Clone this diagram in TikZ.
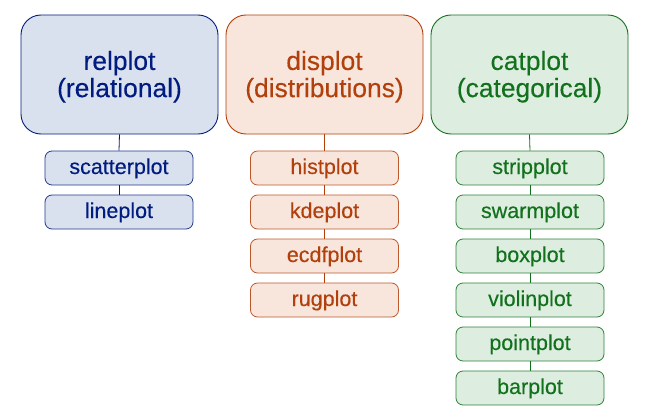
\documentclass[tikz,border=0pt]{standalone}
\usepackage{fontspec}
\setmainfont{Liberation Sans}
\newfontfamily\labfont{Liberation Sans}[FakeBold=0.25]
\definecolor{cb}{HTML}{001C7F}
\definecolor{co}{HTML}{B1400D}
\definecolor{cg}{HTML}{12711C}
\definecolor{fb}{HTML}{DAE1EE}
\definecolor{fo}{HTML}{F8E5DB}
\definecolor{fg}{HTML}{DDEDE0}
\newcommand\bigtxt[2]{\labfont\fontsize{26.4}{26.8}\selectfont\raisebox{-3.5pt}[\height][\depth]{\begin{tabular}{@{}c@{}}#1\\#2\end{tabular}}}
\newcommand\smtxt[1]{\labfont\fontsize{21.5}{24}\selectfont #1}
\tikzset{
  bigbox/.style={draw, rounded corners=20pt, minimum width=197pt, minimum height=119pt, inner sep=0pt, line width=0.9pt},
  smallbox/.style={draw, rounded corners=7pt, minimum width=148pt, minimum height=34pt, inner sep=0pt, text height=15.5pt, text depth=3.5pt, line width=0.8pt},
  blue/.style={draw=cb, fill=fb, text=cb},
  orange/.style={draw=co, fill=fo, text=co},
  green/.style={draw=cg, fill=fg, text=cg},
  sblue/.style={draw=cb!85!fb, fill=fb, text=cb},
  sorange/.style={draw=co!85!fo, fill=fo, text=co},
  sgreen/.style={draw=cg!85!fg, fill=fg, text=cg},
  conn/.style={line width=0.8pt}
}
\begin{document}
\begin{tikzpicture}[x=1pt,y=-1pt]
\useasboundingbox[fill=white] (0,0) rectangle (657,415);
% column 1
\node[bigbox, blue] (rel) at (119.5,74.5) {\bigtxt{relplot}{(relational)}};
\node[smallbox, sblue] (scatter) at (119,168) {\smtxt{scatterplot}};
\node[smallbox, sblue] (line) at (119,212) {\smtxt{lineplot}};
\draw[conn, cb] (rel.south) -- (scatter.north);
\draw[conn, cb] (scatter.south) -- (line.north);
% column 2
\node[bigbox, orange] (dis) at (324.5,74.5) {\bigtxt{displot}{(distributions)}};
\node[smallbox, sorange] (hist) at (324.5,168) {\smtxt{histplot}};
\node[smallbox, sorange] (kde) at (324.5,212) {\smtxt{kdeplot}};
\node[smallbox, sorange] (ecdf) at (324.5,256) {\smtxt{ecdfplot}};
\node[smallbox, sorange] (rug) at (324.5,300) {\smtxt{rugplot}};
\draw[conn, co] (dis.south) -- (hist.north);
\draw[conn, co] (hist.south) -- (kde.north);
\draw[conn, co] (kde.south) -- (ecdf.north);
\draw[conn, co] (ecdf.south) -- (rug.north);
% column 3
\node[bigbox, green] (cat) at (529.5,74.5) {\bigtxt{catplot}{(categorical)}};
\node[smallbox, sgreen] (strip) at (530,168) {\smtxt{stripplot}};
\node[smallbox, sgreen] (swarm) at (530,212) {\smtxt{swarmplot}};
\node[smallbox, sgreen] (box) at (530,256) {\smtxt{boxplot}};
\node[smallbox, sgreen] (violin) at (530,300) {\smtxt{violinplot}};
\node[smallbox, sgreen] (point) at (530,344) {\smtxt{pointplot}};
\node[smallbox, sgreen] (bar) at (530,388) {\smtxt{barplot}};
\draw[conn, cg] (cat.south) -- (strip.north);
\draw[conn, cg] (strip.south) -- (swarm.north);
\draw[conn, cg] (swarm.south) -- (box.north);
\draw[conn, cg] (box.south) -- (violin.north);
\draw[conn, cg] (violin.south) -- (point.north);
\draw[conn, cg] (point.south) -- (bar.north);
\end{tikzpicture}
\end{document}
